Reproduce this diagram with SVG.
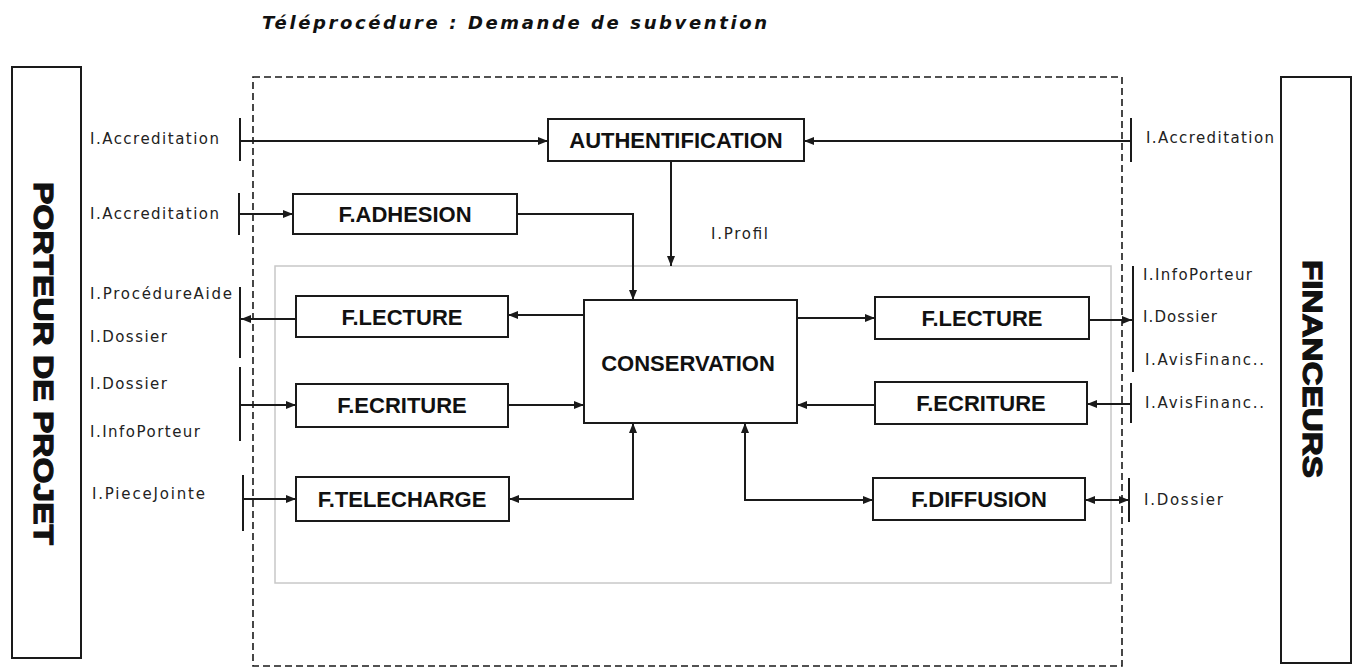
<svg xmlns="http://www.w3.org/2000/svg" width="1357" height="669" viewBox="0 0 1357 669">
<style>
.box{fill:#fff;stroke:#1a1a1a;stroke-width:2}
.nt{font-family:"Liberation Sans",Arial,sans-serif;font-weight:bold;font-size:22px;fill:#111;text-anchor:middle}
.lb{font-family:"DejaVu Sans","Liberation Sans",sans-serif;font-size:15px;fill:#222}
.big{font-family:"Liberation Sans",Arial,sans-serif;font-weight:900;font-size:28px;fill:#111;stroke:#111;stroke-width:1.2;text-anchor:middle}
.ln{fill:none;stroke:#1a1a1a;stroke-width:2}
.tk{stroke:#1a1a1a;stroke-width:2}
</style>
<defs>
<marker id="arr" viewBox="0 0 10 8" markerUnits="userSpaceOnUse" markerWidth="10" markerHeight="8" refX="10" refY="4" orient="auto-start-reverse">
<path d="M0,0 L10,4 L0,8 z" fill="#1a1a1a"/>
</marker>
</defs>
<rect width="1357" height="669" fill="#fff"/>
<text x="262" y="29" font-family="DejaVu Sans,Liberation Sans,sans-serif" font-weight="bold" font-style="italic" font-size="18" fill="#111" textLength="505" lengthAdjust="spacing">Téléprocédure : Demande de subvention</text>

<g id="porteur">
<rect x="12" y="67" width="69" height="591" fill="#fff" stroke="#1a1a1a" stroke-width="2"/>
<text class="big" transform="translate(34,363.5) rotate(90)" x="0" y="0" textLength="363" lengthAdjust="spacingAndGlyphs">PORTEUR DE PROJET</text>
</g>
<g id="financeurs">
<rect x="1281" y="77" width="70" height="586" fill="#fff" stroke="#1a1a1a" stroke-width="2"/>
<text class="big" transform="translate(1303,369) rotate(90)" x="0" y="0" textLength="218" lengthAdjust="spacingAndGlyphs">FINANCEURS</text>
</g>
<g id="systeme">
<rect x="253" y="77" width="869" height="589" fill="none" stroke="#1a1a1a" stroke-width="1.6" stroke-dasharray="7 4"/>
</g>
<g id="stockage">
<rect x="275" y="266" width="836" height="317" fill="none" stroke="#c8c8c8" stroke-width="1.5"/>
</g>

<g id="connectors">
<line class="tk" x1="240" y1="118" x2="240" y2="161"/>
<line class="tk" x1="239" y1="193" x2="239" y2="235"/>
<line class="tk" x1="240" y1="287" x2="240" y2="358"/>
<line class="tk" x1="240" y1="367" x2="240" y2="441"/>
<line class="tk" x1="243" y1="475" x2="243" y2="531"/>
<line class="tk" x1="1131" y1="118" x2="1131" y2="162"/>
<line class="tk" x1="1133" y1="266" x2="1133" y2="372"/>
<line class="tk" x1="1131" y1="383" x2="1131" y2="423"/>
<line class="tk" x1="1129" y1="478" x2="1129" y2="522"/>
<path class="ln" d="M240,141 H548" marker-end="url(#arr)"/>
<path class="ln" d="M239,214 H293" marker-end="url(#arr)"/>
<path class="ln" d="M296,319 H241" marker-end="url(#arr)"/>
<path class="ln" d="M240,405 H296" marker-end="url(#arr)"/>
<path class="ln" d="M243,499 H296" marker-end="url(#arr)"/>
<path class="ln" d="M1131,141 H804" marker-end="url(#arr)"/>
<path class="ln" d="M1089,320 H1132" marker-end="url(#arr)"/>
<path class="ln" d="M1131,404 H1087" marker-end="url(#arr)"/>
<path class="ln" d="M1085,500 H1129" marker-start="url(#arr)" marker-end="url(#arr)"/>
<path class="ln" d="M671,161 V266" marker-end="url(#arr)"/>
<path class="ln" d="M517,214 H633 V300" marker-end="url(#arr)"/>
<path class="ln" d="M584,315 H508" marker-end="url(#arr)"/>
<path class="ln" d="M508,405 H584" marker-end="url(#arr)"/>
<path class="ln" d="M509,499 H633 V423" marker-start="url(#arr)" marker-end="url(#arr)"/>
<path class="ln" d="M797,318 H875" marker-end="url(#arr)"/>
<path class="ln" d="M875,405 H797" marker-end="url(#arr)"/>
<path class="ln" d="M745,423 V500 H873" marker-start="url(#arr)" marker-end="url(#arr)"/>
</g>

<g id="labels">
<text class="lb" x="90" y="144" textLength="129" lengthAdjust="spacing">I.Accreditation</text>
<text class="lb" x="90" y="219" textLength="129" lengthAdjust="spacing">I.Accreditation</text>
<text class="lb" x="90" y="299" textLength="142" lengthAdjust="spacing">I.ProcédureAide</text>
<text class="lb" x="90" y="342" textLength="77" lengthAdjust="spacing">I.Dossier</text>
<text class="lb" x="90" y="389" textLength="77" lengthAdjust="spacing">I.Dossier</text>
<text class="lb" x="90" y="437" textLength="110" lengthAdjust="spacing">I.InfoPorteur</text>
<text class="lb" x="92" y="499" textLength="113" lengthAdjust="spacing">I.PieceJointe</text>
<text class="lb" x="711" y="239" textLength="57" lengthAdjust="spacing">I.Profil</text>
<text class="lb" x="1146" y="143" textLength="128" lengthAdjust="spacing">I.Accreditation</text>
<text class="lb" x="1143" y="280" textLength="109" lengthAdjust="spacing">I.InfoPorteur</text>
<text class="lb" x="1143" y="322" textLength="74" lengthAdjust="spacing">I.Dossier</text>
<text class="lb" x="1145" y="365" textLength="119" lengthAdjust="spacing">I.AvisFinanc..</text>
<text class="lb" x="1145" y="408" textLength="119" lengthAdjust="spacing">I.AvisFinanc..</text>
<text class="lb" x="1144" y="505" textLength="79" lengthAdjust="spacing">I.Dossier</text>
</g>

<g id="authentification">
<rect class="box" x="548" y="119" width="256" height="42"/>
<text class="nt" x="676" y="148">AUTHENTIFICATION</text>
</g>
<g id="f-adhesion">
<rect class="box" x="293" y="194" width="224" height="40"/>
<text class="nt" x="405" y="222">F.ADHESION</text>
</g>
<g id="f-lecture-porteur">
<rect class="box" x="296" y="296" width="212" height="41"/>
<text class="nt" x="402" y="325">F.LECTURE</text>
</g>
<g id="f-ecriture-porteur">
<rect class="box" x="296" y="384" width="212" height="43"/>
<text class="nt" x="402" y="413">F.ECRITURE</text>
</g>
<g id="f-telecharge">
<rect class="box" x="296" y="477" width="213" height="44"/>
<text class="nt" x="402" y="507">F.TELECHARGE</text>
</g>
<g id="conservation">
<rect class="box" x="584" y="300" width="213" height="123"/>
<text class="nt" x="688" y="371">CONSERVATION</text>
</g>
<g id="f-lecture-financeurs">
<rect class="box" x="875" y="297" width="214" height="42"/>
<text class="nt" x="982" y="326">F.LECTURE</text>
</g>
<g id="f-ecriture-financeurs">
<rect class="box" x="875" y="382" width="212" height="42"/>
<text class="nt" x="981" y="411">F.ECRITURE</text>
</g>
<g id="f-diffusion">
<rect class="box" x="873" y="478" width="212" height="42"/>
<text class="nt" x="979" y="507">F.DIFFUSION</text>
</g>
</svg>
